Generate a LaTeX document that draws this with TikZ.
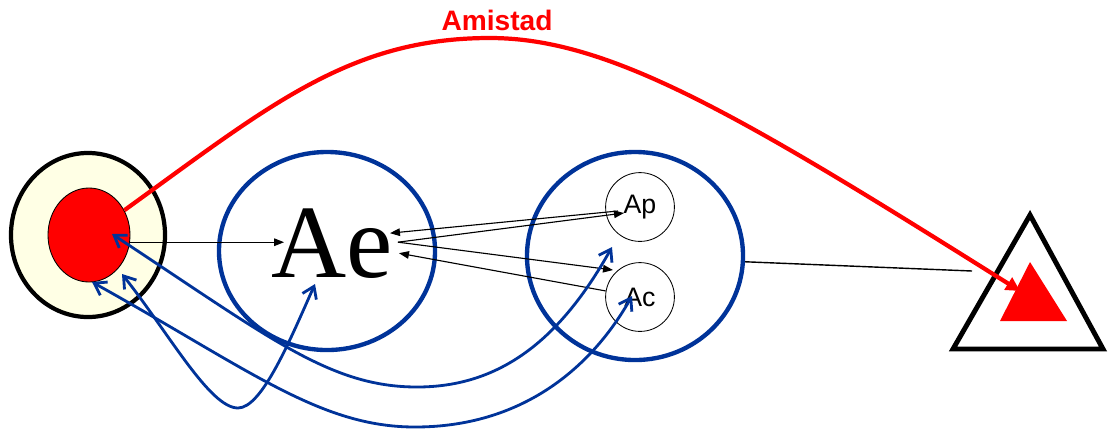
\documentclass[tikz,border=0pt]{standalone}
\usepackage{fontspec}
\setmainfont{Liberation Serif}
\setsansfont{Liberation Sans}
\usetikzlibrary{arrows.meta,shapes.geometric,calc}
\definecolor{dblue}{RGB}{0,51,153}
\definecolor{lyellow}{RGB}{255,255,229}
\begin{document}
\begin{tikzpicture}[x=0.025cm,y=-0.025cm,
  bigell/.style={ellipse,draw=dblue,line width=3.1pt,inner sep=0pt},
  smallc/.style={circle,draw,line width=0.6pt,minimum size=1.72cm,inner sep=0pt,font=\sffamily\fontsize{19}{19}\selectfont},
  blk/.style={line width=0.8pt,-{Triangle[length=2.5mm,width=1.9mm]}},
  bl/.style={draw=dblue,line width=2pt,{Straight Barb[length=2.8mm,width=3.8mm]}-{Straight Barb[length=2.8mm,width=3.8mm]}},
]
\useasboundingbox (0,0) rectangle (1108,430);
% left circles
\node[ellipse,draw,fill=lyellow,line width=3pt,minimum width=3.85cm,minimum height=4.1cm,inner sep=0pt] (outer) at (88,235) {};
\node[ellipse,draw,fill=red,line width=0.6pt,minimum width=2.05cm,minimum height=2.35cm,inner sep=0pt] (core) at (89,235) {};
% blue ellipses
\node[bigell,minimum width=5.4cm,minimum height=4.95cm] (E1) at (327,251) {};
\node[bigell,minimum width=5.4cm,minimum height=5.2cm] (E2) at (635,256) {};
\node[smallc] (ap) at (640,207) {Ap};
\node[smallc] (ac) at (640,297) {Ac};
\node[anchor=base,font=\fontsize{74}{74}\selectfont,inner sep=0pt] (ae) at (332,277) {Ae};
% triangle
\coordinate (t1) at (1030,215);
\coordinate (t2) at (953,349);
\coordinate (t3) at (1103,349);
\draw[line width=3.5pt] (t1) -- (t2) -- (t3) -- cycle;
\coordinate (r1) at (1030,262);
\coordinate (r2) at (1000,321);
\coordinate (r3) at (1067,321);
\fill[red] (r1) -- (r2) -- (r3) -- cycle;
% label
\node[red,font=\sffamily\bfseries\fontsize{20}{20}\selectfont] (lab) at (497,20) {Amistad};
% red curve
\coordinate (peak) at (490,38);
\coordinate (rt) at (1020,291);
\draw[red,line width=3pt,-{Triangle[length=3.5mm,width=3.5mm]}] (core.35) .. controls (270,105) and (350,38) .. (peak)
  .. controls (610,38) and (740,115) .. (rt);
% black arrows
\draw[blk] (core.-10) -- ($(ae.west |- core.-10)+(13,0)$);
\coordinate (aeo) at ($(ae.east)+(5,-1)$);
\draw[blk] (aeo) -- ($(ap.center)+(-16,6)$);
\draw[blk] ($(ap.center)+(-22,4)$) -- ($(ae.east)+(-3,-10)$);
\draw[blk] (aeo) -- ($(ac.center)+(-27,-27)$);
\draw[blk] (ac.170) -- ($(ae.east)+(6,10)$);
% line to triangle
\coordinate (tl) at (972,271);
\draw[line width=1pt] (E2.-3) -- (tl);
% blue curves
\draw[bl] ($(core.center)+(23,-1)$) .. controls (270,338) and (330,387) .. (417,387)
   .. controls (500,387) and (560,340) .. ($(ap.center)+(-28,40)$);
\draw[bl] ($(core.center)+(3,47)$) .. controls (250,370) and (320,427) .. (415,427)
   .. controls (520,427) and (590,370) .. ($(ac.center)+(-8,-1)$);
\draw[bl] ($(core.center)+(33,39)$) .. controls (170,335) and (210,408) .. (238,408)
   .. controls (262,408) and (290,340) .. ($(ae.base)+(-17,7)$);
\end{tikzpicture}
\end{document}
